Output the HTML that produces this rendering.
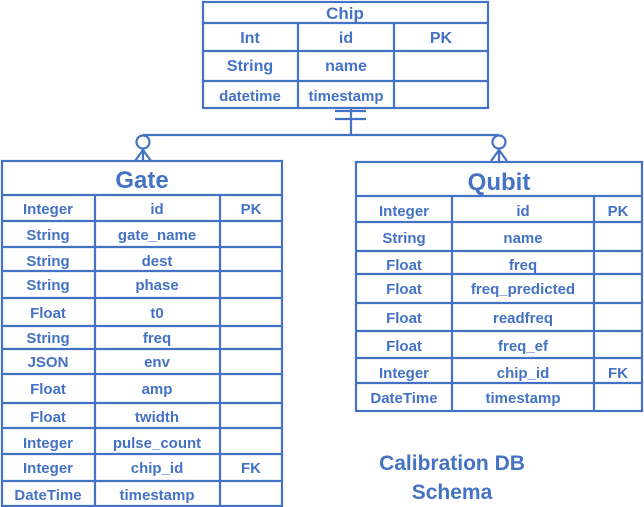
<!DOCTYPE html>
<html><head><meta charset="utf-8"><style>
html,body{margin:0;padding:0;background:#fff;}
svg{display:block;}
text{font-family:"Liberation Sans",Arial,sans-serif;font-weight:bold;fill:#4472c4;text-anchor:middle;}
</style></head><body>
<svg width="644" height="507" viewBox="0 0 644 507" xmlns="http://www.w3.org/2000/svg">
<g stroke="#4472c4" stroke-width="2.2" fill="none">
<!-- Chip -->
<rect x="203" y="2" width="285" height="106"/>
<line x1="203" y1="23" x2="488" y2="23"/>
<line x1="203" y1="51" x2="488" y2="51"/>
<line x1="203" y1="81" x2="488" y2="81"/>
<line x1="298" y1="23" x2="298" y2="108"/>
<line x1="394" y1="23" x2="394" y2="108"/>
<!-- connector -->
<line x1="351" y1="108" x2="351" y2="135"/>
<line x1="335" y1="111" x2="366" y2="111"/>
<line x1="335" y1="119" x2="366" y2="119"/>
<line x1="143" y1="135" x2="499" y2="135"/>
<circle cx="143" cy="142" r="6.5" fill="#fff"/>
<circle cx="499" cy="142" r="6.5" fill="#fff"/>
<path d="M143 149 L143 161 M143 150 L135 161 M143 150 L151 161"/>
<path d="M499 149 L499 161 M499 150 L491 161 M499 150 L507 161"/>
<!-- Gate -->
<rect x="2" y="161" width="280" height="345"/>
<path d="M2 195H282 M2 221H282 M2 247H282 M2 271H282 M2 298H282 M2 326H282 M2 349H282 M2 374H282 M2 403H282 M2 428H282 M2 454H282 M2 481H282"/>
<line x1="95" y1="195" x2="95" y2="506"/>
<line x1="220" y1="195" x2="220" y2="506"/>
<!-- Qubit -->
<rect x="356" y="162" width="286" height="249"/>
<path d="M356 196H642 M356 222H642 M356 251H642 M356 274H642 M356 303H642 M356 331H642 M356 358H642 M356 383H642"/>
<line x1="452" y1="196" x2="452" y2="411"/>
<line x1="594" y1="196" x2="594" y2="411"/>
</g>
<g font-size="16">
<text x="345" y="19" font-size="17">Chip</text>
<text x="250" y="43">Int</text><text x="346" y="43">id</text><text x="441" y="43">PK</text>
<text x="250" y="71">String</text><text x="346" y="71">name</text>
<text x="250" y="101" font-size="15">datetime</text><text x="346" y="101" font-size="15">timestamp</text>
</g>
<g font-size="15">
<text x="142" y="188" font-size="24">Gate</text>
<text x="48" y="214">Integer</text><text x="157" y="214">id</text><text x="251" y="214">PK</text>
<text x="48" y="240">String</text><text x="157" y="240">gate_name</text>
<text x="48" y="266">String</text><text x="157" y="266">dest</text>
<text x="48" y="290">String</text><text x="157" y="290">phase</text>
<text x="48" y="318">Float</text><text x="157" y="318">t0</text>
<text x="48" y="343">String</text><text x="157" y="343">freq</text>
<text x="48" y="367">JSON</text><text x="157" y="367">env</text>
<text x="48" y="394">Float</text><text x="157" y="394">amp</text>
<text x="48" y="422">Float</text><text x="157" y="422">twidth</text>
<text x="48" y="448">Integer</text><text x="157" y="448">pulse_count</text>
<text x="48" y="473">Integer</text><text x="157" y="473">chip_id</text><text x="251" y="473">FK</text>
<text x="48" y="500">DateTime</text><text x="157" y="500">timestamp</text>
</g>
<g font-size="15">
<text x="499" y="190" font-size="24">Qubit</text>
<text x="404" y="216">Integer</text><text x="523" y="216">id</text><text x="618" y="216">PK</text>
<text x="404" y="243">String</text><text x="523" y="243">name</text>
<text x="404" y="270">Float</text><text x="523" y="270">freq</text>
<text x="404" y="294">Float</text><text x="523" y="294">freq_predicted</text>
<text x="404" y="323">Float</text><text x="523" y="323">readfreq</text>
<text x="404" y="351">Float</text><text x="523" y="351">freq_ef</text>
<text x="404" y="378">Integer</text><text x="523" y="378">chip_id</text><text x="618" y="378">FK</text>
<text x="404" y="403">DateTime</text><text x="523" y="403">timestamp</text>
</g>
<text x="452" y="470" font-size="21">Calibration DB</text>
<text x="452" y="499" font-size="21">Schema</text>
</svg>
</body></html>
